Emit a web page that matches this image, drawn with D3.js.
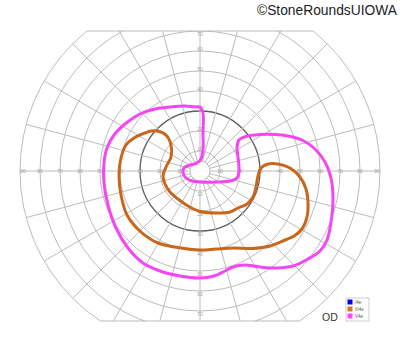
<!DOCTYPE html>
<html>
<head>
<meta charset="utf-8">
<script src="https://cdn.jsdelivr.net/npm/d3@7"></script>
<style>
  body { margin: 0; background: #fff; }
  svg { display: block; font-family: "Liberation Sans", Arial, sans-serif; }
</style>
</head>
<body>
<div id="field"></div>
<script>
'use strict';

/*** Data */
/** Grid: rings and meridians in degrees */
const rings = [10, 20, 30, 40, 50, 60, 70, 80, 90];
const meridians = d3.range(0, 360, 15);
const hLabels = [10, 20, 30, 40, 50, 60, 70, 80, 90];
const vLabelsUp = [10, 20, 30, 40, 50, 60, 70];
const vLabelsDown = [10, 20, 30, 40, 50, 60, 70];

/** Isopters, [horizontal deg, vertical deg] (right / up positive) */
const v4e = [
  [0, 32], [1.5, 29], [1.5, 19], [1.5, 10.5], [0.5, 6], [-1.5, 4], [-5, 3],
  [-8, 1.5], [-8.5, -1], [-7, -3.5], [-4, -5], [0, -5.5], [8, -5.5], [15, -5],
  [18.5, -3.5], [19.5, 0.5], [19, 7], [18.5, 12], [19.5, 15.5], [23, 17.25],
  [30, 18.25], [37.5, 18.25], [44, 17.5], [51, 15.5], [57.5, 11], [62.5, 4.5],
  [65.5, -3.5], [66.5, -14.5], [65.5, -25.5], [63.5, -34.5], [60, -40],
  [54, -44], [46.5, -47.5], [38.5, -48.5], [30, -48], [22.5, -47], [16.5, -48],
  [12, -50.25], [7, -52.5], [0, -53.5], [-10, -52.5], [-20, -50], [-28.5, -46],
  [-36, -38.5], [-42, -28.5], [-46, -17], [-48, -6], [-48, 4], [-46.5, 11.5],
  [-43, 18], [-37.5, 23.5], [-30, 28.5], [-22.5, 31], [-15, 32], [-7.5, 32.5],
  [-2.5, 32]
];

const iii4e = [
  [-21.5, 20], [-17, 18], [-14.5, 13], [-14.5, 7], [-17, 2], [-18.5, -2.5],
  [-17.5, -6.5], [-15, -10.5], [-11, -14], [-6, -17.5], [0, -20.25], [8, -21],
  [15, -20.5], [19, -18.5], [23.5, -16.5], [26.5, -13], [28, -8], [29, -2.5],
  [30.5, 1.5], [34, 3.5], [39, 3.5], [45, 1.5], [50, -3], [53, -9], [54, -16],
  [53.5, -23], [51, -29], [47, -32.5], [42.5, -34.5], [35, -37.5], [26, -38.75],
  [16.5, -38.5], [8, -39], [0, -39.5], [-11, -38.25], [-21, -36], [-29.5, -30.5],
  [-36.5, -22], [-39.5, -12], [-40.5, -2], [-39.5, 6.5], [-37, 13], [-33, 16.5],
  [-27.5, 19], [-24.5, 20]
];

/** Legend */
const legendNames = ["I4e", "III4e", "V4e"];
const legendColors = ["#0000ff", "#d27a2c", "#ff44ff"];

/*** Layout */
const w = 400;
const h = 352;
const cx = 200;
const cy = 171;
const pxPerDeg = 2;
const topDeg = 70;      // frame cut above fixation
const bottomDeg = 75;   // frame cut below fixation
const gridColor = "#bcbcbc";

const svg = d3.select("#field")
  .append("svg")
  .attr("width", w)
  .attr("height", h);

/* Scales: degrees -> pixels */
const x = d3.scaleLinear().domain([-90, 90]).range([cx - 90 * pxPerDeg, cx + 90 * pxPerDeg]);
const y = d3.scaleLinear().domain([-bottomDeg, topDeg]).range([cy + bottomDeg * pxPerDeg, cy - topDeg * pxPerDeg]);
const r = d3.scaleLinear().domain([0, 90]).range([0, 90 * pxPerDeg]);

/* Clip to the chart frame */
svg.append("clipPath")
  .attr("id", "frame")
  .append("rect")
  .attr("x", x(-90) - 2)
  .attr("y", y(topDeg))
  .attr("width", x(90) - x(-90) + 4)
  .attr("height", y(-bottomDeg) - y(topDeg));

const grid = svg.append("g").attr("clip-path", "url(#frame)");

/** Rings */
grid.selectAll("circle.ring")
  .data([5].concat(rings))
  .enter()
  .append("circle")
  .attr("class", "ring")
  .attr("cx", x(0))
  .attr("cy", y(0))
  .attr("r", (d) => r(d))
  .attr("fill", "none")
  .attr("stroke", (d) => d === 30 ? "#5e5e5e" : gridColor)
  .attr("stroke-width", (d) => d === 30 ? 1.3 : 1);

/** Meridians */
grid.selectAll("line.meridian")
  .data(meridians)
  .enter()
  .append("line")
  .attr("class", "meridian")
  .attr("x1", (d) => x(5 * Math.cos(d * Math.PI / 180)))
  .attr("y1", (d) => y(5 * Math.sin(d * Math.PI / 180)))
  .attr("x2", (d) => x(90 * Math.cos(d * Math.PI / 180)))
  .attr("y2", (d) => y(90 * Math.sin(d * Math.PI / 180)))
  .attr("stroke", gridColor)
  .attr("stroke-width", 1);

/** Top and bottom edges of the frame */
const chord = (deg) => Math.sqrt(90 * 90 - deg * deg);
svg.selectAll("line.edge")
  .data([topDeg, -bottomDeg])
  .enter()
  .append("line")
  .attr("class", "edge")
  .attr("x1", (d) => x(-chord(d)))
  .attr("x2", (d) => x(chord(d)))
  .attr("y1", (d) => y(d))
  .attr("y2", (d) => y(d))
  .attr("stroke", gridColor)
  .attr("stroke-width", 1);

/** Axis labels */
const labelStyle = (sel) => sel
  .attr("font-size", 5)
  .attr("fill", "#a0a0a0")
  .attr("text-anchor", "middle")
  .attr("dominant-baseline", "central");

const hData = hLabels.map((d) => -d).concat(hLabels);
svg.selectAll("text.hlab")
  .data(hData)
  .enter()
  .append("text")
  .attr("class", "hlab")
  .attr("x", (d) => Math.abs(d) === 90 ? x(d) - Math.sign(d) * 3 : x(d))
  .attr("y", y(0))
  .text((d) => Math.abs(d))
  .call(labelStyle);

svg.selectAll("text.vup")
  .data(vLabelsUp)
  .enter()
  .append("text")
  .attr("class", "vup")
  .attr("x", x(0))
  .attr("y", (d) => Math.max(y(d) - 2, y(topDeg) + 3))
  .text((d) => d)
  .call(labelStyle);

svg.selectAll("text.vdown")
  .data(vLabelsDown)
  .enter()
  .append("text")
  .attr("class", "vdown")
  .attr("x", x(0))
  .attr("y", (d) => y(-d) + 3)
  .text((d) => d)
  .call(labelStyle);

/** Isopters */
const line = d3.line()
  .x((d) => x(d[0]))
  .y((d) => y(d[1]))
  .curve(d3.curveCatmullRomClosed.alpha(0.5));

svg.append("path")
  .datum(iii4e)
  .attr("d", line)
  .attr("fill", "none")
  .attr("stroke", "#c9661a")
  .attr("stroke-width", 3)
  .attr("stroke-linejoin", "round");

svg.append("path")
  .datum(v4e)
  .attr("d", line)
  .attr("fill", "none")
  .attr("stroke", "#f546f5")
  .attr("stroke-width", 3)
  .attr("stroke-linejoin", "round");

/** Legend */
const legend = svg.append("g").attr("transform", "translate(346,298)");
legend.append("rect")
  .attr("width", 23)
  .attr("height", 23)
  .attr("fill", "#fff")
  .attr("stroke", "#cfcfcf")
  .attr("stroke-width", 1);

legend.selectAll("rect.key")
  .data(legendNames)
  .enter()
  .append("rect")
  .attr("class", "key")
  .attr("x", 1.5)
  .attr("y", (d, i) => 1.5 + i * 7)
  .attr("width", 5)
  .attr("height", 5)
  .attr("fill", (d, i) => legendColors[i]);

legend.selectAll("text.key")
  .data(legendNames)
  .enter()
  .append("text")
  .attr("class", "key")
  .attr("x", 9)
  .attr("y", (d, i) => 5.5 + i * 7)
  .attr("font-size", 4.5)
  .attr("fill", "#555")
  .text((d) => d);

/** Eye and watermark */
svg.append("text")
  .attr("x", 322)
  .attr("y", 321)
  .attr("font-size", 10.5)
  .attr("fill", "#333")
  .text("OD");

svg.append("text")
  .attr("x", 397)
  .attr("y", 15)
  .attr("text-anchor", "end")
  .attr("font-size", 13.8)
  .attr("fill", "#222")
  .text("©StoneRoundsUIOWA");
</script>
</body>
</html>
